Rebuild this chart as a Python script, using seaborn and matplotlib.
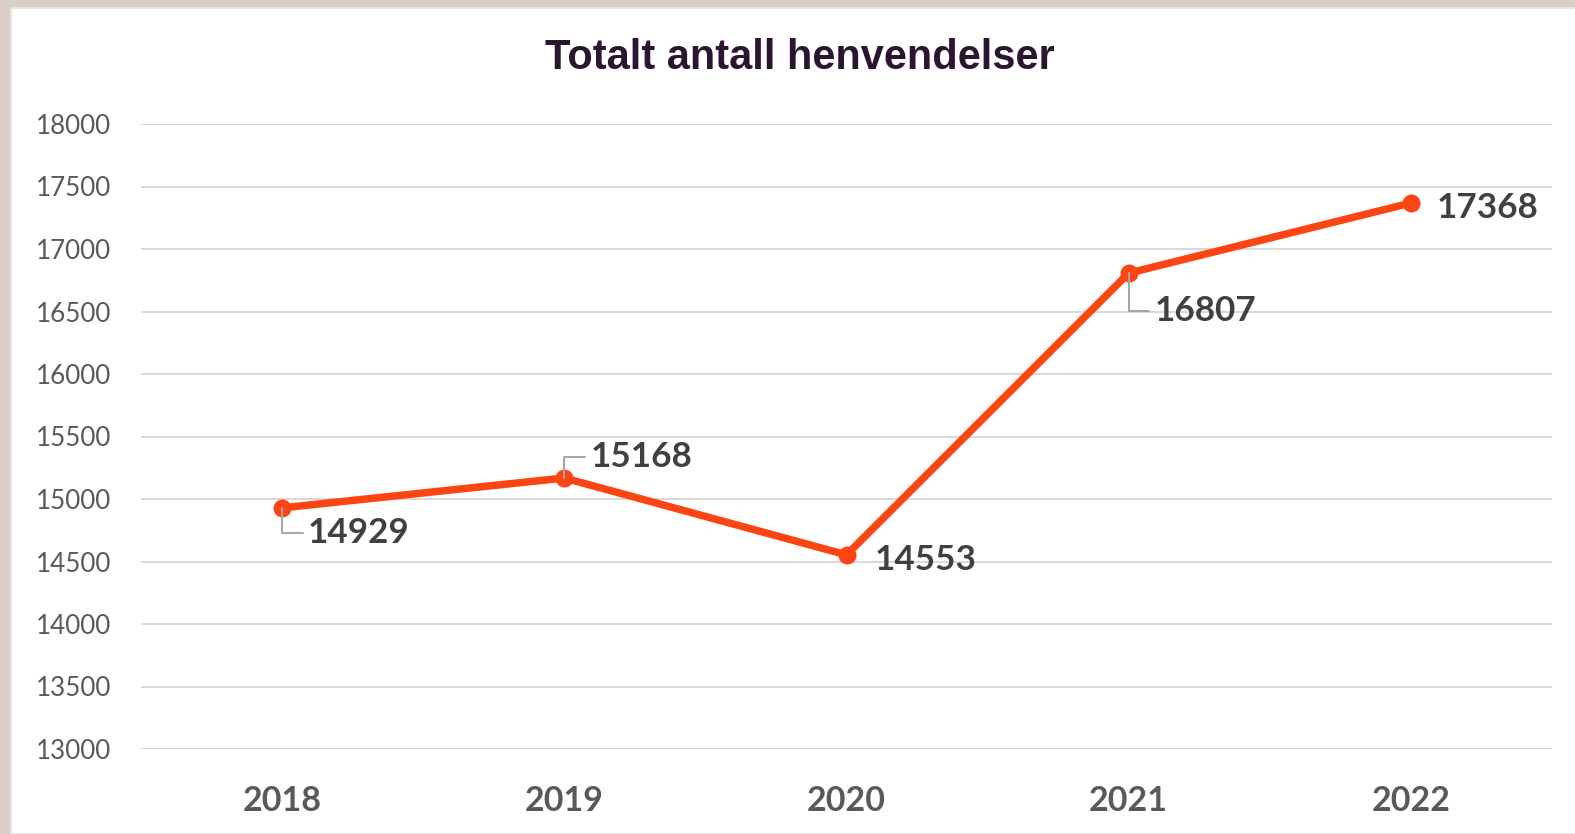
import matplotlib
matplotlib.use("Agg")
import matplotlib.pyplot as plt
from matplotlib.patches import Rectangle
import pandas as pd
import seaborn as sns

years = ["2018", "2019", "2020", "2021", "2022"]
totals = [14929, 15168, 14553, 16807, 17368]
yticks = [13000, 13500, 14000, 14500, 15000, 15500, 16000, 16500, 17000, 17500, 18000]
# label offsets in points (dpi=72 so 1 pt = 1 px), with or without a leader line
label_offsets = [(26, -25, True), (26, 21, True), (28, -5, False), (26, -38, True), (26, -5, False)]

df = pd.DataFrame({"year": years, "total": totals})

sns.set_style("white")
plt.rcParams["font.family"] = ["Lato", "DejaVu Sans"]

fig = plt.figure(figsize=(1575 / 72, 834 / 72), dpi=72)
fig.patch.set_facecolor("#dccdc8")
fig.patches.append(Rectangle((11 / 1575, 0), 1, 1 - 8 / 834, transform=fig.transFigure,
                             facecolor="white", edgecolor="#e6e6e6", linewidth=2, zorder=-5))
ax = fig.add_axes([141 / 1575, 1 - 749 / 834, 1411 / 1575, 625 / 834])
ax.set_facecolor("none")

sns.lineplot(data=df, x="year", y="total", ax=ax, color="#fc4512", linewidth=7.5,
             marker="o", markersize=18, markeredgewidth=0, zorder=3)

ax.set_xlim(-0.5, 4.5)
ax.set_ylim(13000, 18000)
ax.set_yticks(yticks)
ax.yaxis.grid(True, color="#d9d9d9", linewidth=2)
ax.set_axisbelow(True)
sns.despine(ax=ax, left=True, bottom=True)
ax.tick_params(length=0)
ax.tick_params(axis="y", labelsize=26, labelcolor="#595959", pad=30)
ax.tick_params(axis="x", labelsize=34, labelcolor="#595959", pad=36)
for t in ax.get_xticklabels():
    t.set_fontweight("bold")
ax.set_xlabel("")
ax.set_ylabel("")

for i, (v, (dx, dy, lead)) in enumerate(zip(totals, label_offsets)):
    props = None
    if lead:
        props = dict(arrowstyle="-", color="#a6a6a6", linewidth=2, shrinkA=3, shrinkB=0,
                     relpos=(0, 0.5), connectionstyle="angle,angleA=0,angleB=90,rad=0")
    ax.annotate(str(v), xy=(i, v), xytext=(dx, dy), textcoords="offset points",
                ha="left", va="center", fontsize=35, fontweight="bold", color="#404040",
                arrowprops=props, zorder=4)

fig.text(800 / 1575, 1 - 58 / 834, "Totalt antall henvendelser", ha="center", va="center",
         fontsize=41.5, fontweight="bold", color="#2b1530", family=["Liberation Sans", "DejaVu Sans"])

fig.savefig("out.png", dpi=72, facecolor=fig.get_facecolor())
